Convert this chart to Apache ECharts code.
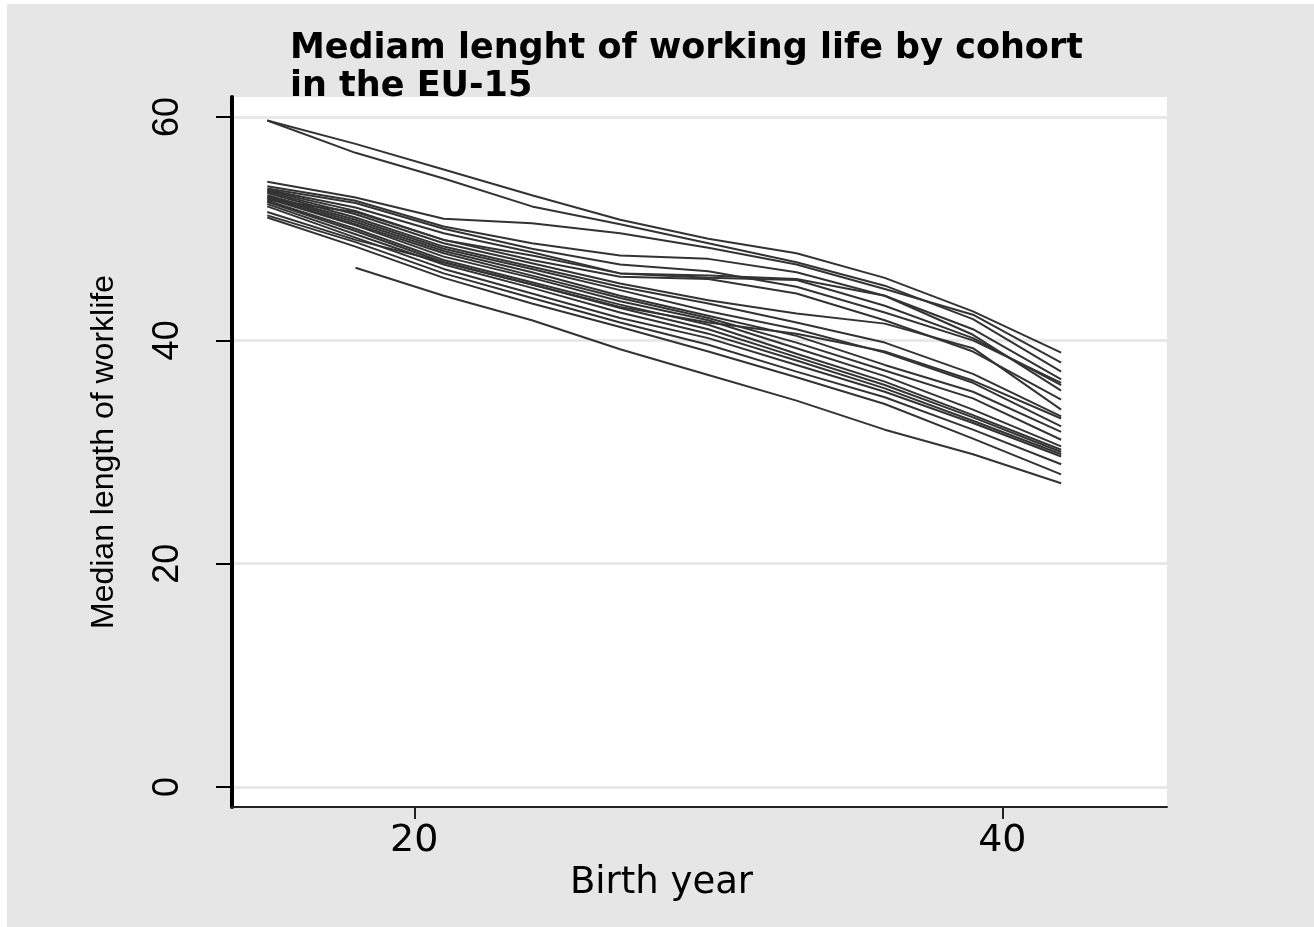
<!DOCTYPE html>
<html>
<head>
<meta charset="utf-8">
<script src="https://cdn.jsdelivr.net/npm/echarts@6/dist/echarts.min.js"></script>
<style>
html,body{margin:0;padding:0;background:#ffffff;width:1314px;height:927px;overflow:hidden;}
#chart{position:absolute;left:7px;top:4px;width:1307px;height:923px;}
</style>
</head>
<body>
<div id="chart"></div>
<script>
// Birth year positions of each cohort line
const years = [15, 18, 21, 24, 27, 30, 33, 36, 39, 42];
// Median length of worklife, one array per country/group line
const line01 = [59.7, 57.6, 55.3, 53.0, 50.8, 49.1, 47.8, 45.6, 42.6, 38.9];
const line02 = [59.7, 56.8, 54.5, 52.0, 50.4, 48.7, 47.0, 44.9, 41.9, 37.2];
const line03 = [54.2, 52.8, 50.9, 50.5, 49.6, 48.3, 46.8, 44.6, 42.3, 38.0];
const line04 = [53.8, 52.5, 50.2, 48.7, 47.6, 47.3, 46.1, 44.0, 41.0, 36.5];
const line05 = [53.5, 51.9, 49.6, 47.9, 46.0, 45.6, 45.4, 43.1, 40.2, 36.0];
const line06 = [53.4, 51.6, 49.0, 47.2, 45.7, 45.5, 44.2, 41.8, 39.0, 34.7];
const line07 = [53.3, 51.3, 48.7, 46.9, 45.1, 43.6, 42.4, 41.5, 39.3, 33.8];
const line08 = [53.2, 51.0, 48.4, 46.6, 44.8, 43.3, 41.6, 39.8, 37.0, 33.2];
const line09 = [53.0, 50.8, 48.2, 46.4, 44.5, 42.6, 41.0, 38.9, 36.2, 32.3];
const line10 = [52.9, 50.6, 48.0, 46.1, 44.0, 42.2, 40.4, 37.8, 35.4, 31.8];
const line11 = [52.8, 50.4, 47.8, 45.8, 43.8, 42.0, 39.8, 37.3, 34.8, 31.1];
const line12 = [52.7, 50.3, 47.5, 45.6, 43.5, 41.8, 39.3, 36.8, 33.8, 30.5];
const line13 = [52.5, 50.0, 47.2, 45.2, 43.2, 41.4, 38.8, 36.3, 33.3, 30.2];
const line14 = [52.4, 49.8, 47.0, 45.0, 42.9, 41.0, 38.5, 36.0, 33.1, 30.0];
const line15 = [52.2, 49.5, 46.8, 44.7, 42.5, 40.6, 38.2, 35.7, 32.8, 29.8];
const line16 = [52.0, 49.2, 46.4, 44.2, 42.0, 40.2, 37.8, 35.4, 32.6, 29.6];
const line17 = [51.5, 49.0, 47.0, 45.0, 43.0, 41.6, 40.6, 39.0, 36.4, 33.0];
const line18 = [51.2, 48.8, 46.0, 43.8, 41.6, 39.6, 37.2, 34.9, 32.0, 28.9];
const line19 = [51.0, 48.4, 45.6, 43.3, 41.2, 39.0, 36.7, 34.3, 31.2, 28.0];
const line20 = [null, 46.5, 44.0, 41.8, 39.2, 36.9, 34.6, 32.0, 29.8, 27.2];
const line21 = [52.6, 51.5, 49.0, 47.6, 46.0, 45.8, 45.5, 44.0, 40.5, 35.5];
const line22 = [53.6, 52.3, 50.0, 48.2, 46.8, 46.2, 44.8, 42.5, 40.0, 36.2];
const allLines = [line01, line02, line03, line04, line05, line06, line07, line08, line09, line10, line11,
  line12, line13, line14, line15, line16, line17, line18, line19, line20, line21, line22];
// Axis tick labels
const xTicks = [20, 40];
const yTicks = [0, 20, 40, 60];

const chart = echarts.init(document.getElementById('chart'), null, {renderer: 'canvas'});
const series = allLines.map((vals, i) => ({
  type: 'line',
  name: 'line' + (i + 1),
  data: years.map((y, j) => vals[j] == null ? null : [y, vals[j]]).filter(d => d !== null),
  showSymbol: false,
  symbol: 'none',
  lineStyle: {color: '#333333', width: 2},
  emphasis: {disabled: true},
  silent: true
}));

chart.setOption({
  animation: false,
  backgroundColor: '#e6e6e6',
  title: {
    text: 'Mediam lenght of working life by cohort\nin the EU-15',
    left: 283, top: 26, padding: 0,
    textStyle: {fontFamily: 'DejaVu Sans', fontWeight: 'bold', fontSize: 35, lineHeight: 38, color: '#000'}
  },
  grid: {
    left: 225, top: 93, right: 147, bottom: 120,
    show: true, backgroundColor: '#ffffff', borderWidth: 0, containLabel: false
  },
  xAxis: {
    type: 'value', min: 13.8, max: 45.6,
    name: 'Birth year', nameLocation: 'middle', nameGap: 58,
    nameTextStyle: {fontFamily: 'DejaVu Sans', fontSize: 37, color: '#000', padding: [0, 76, 0, 0]},
    axisLine: {show: true, onZero: false, lineStyle: {color: '#222', width: 2}},
    axisTick: {show: true, customValues: xTicks, length: 12, lineStyle: {color: '#222', width: 2}},
    axisLabel: {customValues: xTicks, fontFamily: 'DejaVu Sans', fontSize: 38, color: '#000', margin: 15},
    splitLine: {show: false}
  },
  yAxis: {
    type: 'value', min: -1.8, max: 61.8,
    name: 'Median length of worklife', nameLocation: 'middle', nameGap: 112, nameRotate: 90,
    nameTextStyle: {fontFamily: 'Liberation Sans', fontSize: 32, color: '#000'},
    axisLine: {show: true, onZero: false, lineStyle: {color: '#000', width: 4}},
    axisTick: {show: true, customValues: yTicks, length: 16, lineStyle: {color: '#000', width: 2}},
    axisLabel: {customValues: yTicks, rotate: 90, fontFamily: 'Liberation Sans', fontSize: 36, color: '#000', margin: 46},
    splitLine: {show: true, lineStyle: {color: '#e8e8e8', width: 3}}
  },
  series: series
});
</script>
</body>
</html>
